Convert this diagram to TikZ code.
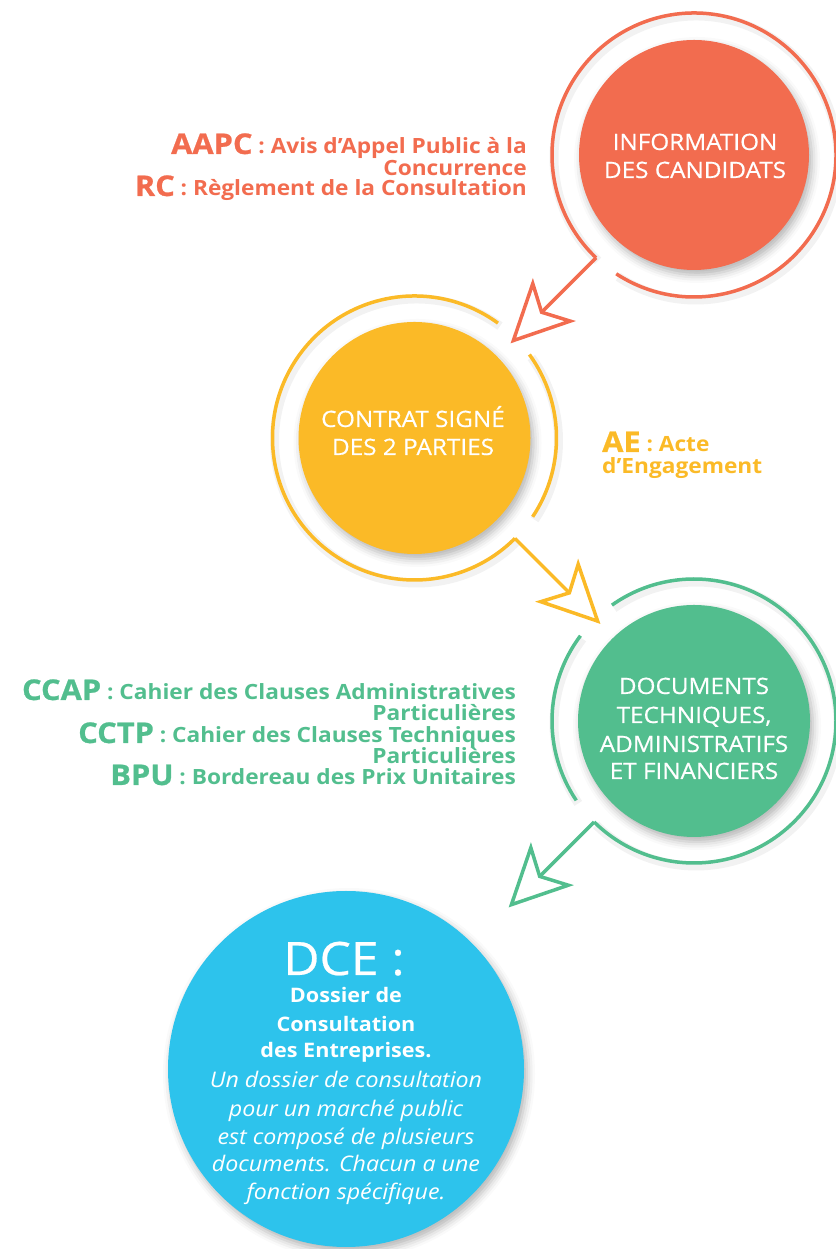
\documentclass[tikz,border=0pt]{standalone}
\usepackage{fontspec}
\setmainfont{Open Sans}[FakeStretch=1.08]
\newfontfamily\acrfont{Open Sans}[FakeStretch=1.08, FakeBold=0.8]
\newfontfamily\medfont{Open Sans}[FakeStretch=1.08, FakeBold=0.5]
\usetikzlibrary{shadows.blur}
\definecolor{cred}{HTML}{F26C4F}
\definecolor{cyel}{HTML}{FBBA27}
\definecolor{cgrn}{HTML}{52BE8E}
\definecolor{cblu}{HTML}{2DC3EC}
\newcommand\acr[1]{{\acrfont\fontsize{28.5}{28.5}\selectfont #1}}
\newcommand\ringarc[4]{%
  \draw[ringshadow] ([xshift=2pt,yshift=-3pt]#2) ++(#3:142) arc[start angle=#3, end angle=#4, radius=142];
  \draw[ring, #1] (#2) ++(#3:142) arc[start angle=#3, end angle=#4, radius=142];}
\tikzset{
  disc/.style={circle, minimum size=#1, inner sep=0pt, draw=none,
    blur shadow={shadow xshift=3pt, shadow yshift=-5pt, shadow blur radius=8pt, shadow opacity=30}},
  ring/.style={line width=3.5pt},
  ringshadow/.style={line width=9pt, black, opacity=0.05},
  shaft/.style={line width=3.5pt, line join=miter},
  openhead/.pic={\draw[line width=3.5pt, line join=miter, pic actions] (0,0) -- (-14,26.5) -- (40,0) -- (-14,-26.5) -- cycle;},
  lbl/.style={text=white, font=\medfont\fontsize{22.5}{22.5}\selectfont, inner sep=0pt, anchor=base},
  desc/.style={font=\bfseries\fontsize{21}{21}\selectfont, inner sep=0pt},
  blubold/.style={text=white, font=\bfseries\fontsize{20}{20}\selectfont, inner sep=0pt, anchor=base},
  bluit/.style={text=white, font=\itshape\fontsize{21.5}{21.5}\selectfont, inner sep=0pt, anchor=base},
}
\begin{document}
\begin{tikzpicture}[x=1pt,y=1pt]
\useasboundingbox (0,0) rectangle (835,1249);

% discs
\node[disc=230, fill=cred] (info) at (694,1094) {};
\node[disc=232, fill=cyel] (contrat) at (414.5,811) {};
\node[disc=232, fill=cgrn] (docs) at (694,528) {};
\node[disc=356, fill=cblu] (dce) at (346,180) {};

% rings
\ringarc{cred}{info.center}{236.8}{586.4}
\ringarc{cyel}{contrat.center}{54}{315}
\ringarc{cyel}{contrat.center}{-33.7}{36}
\ringarc{cgrn}{docs.center}{-134.7}{125.3}
\ringarc{cgrn}{docs.center}{143.1}{214}

% arrow end points
\path (info.center) ++(226.4:142) coordinate (a1s) ++(225:77) coordinate (a1n);
\path (contrat.center) ++(315:142) coordinate (a2s) ++(-45:77) coordinate (a2n);
\path (docs.center) ++(225.3:142) coordinate (a3s) ++(225:77) coordinate (a3n);

\draw[shaft, cred] (a1s) -- (a1n);
\pic[draw=cred, rotate=225] at (a1n) {openhead};
\draw[shaft, cyel] (a2s) -- (a2n);
\pic[draw=cyel, rotate=-45] at (a2n) {openhead};
\draw[shaft, cgrn] (a3s) -- (a3n);
\pic[draw=cgrn, rotate=225] at (a3n) {openhead};

% disc labels
\node[lbl] (info1) at (695,1099) {INFORMATION};
\node[lbl] (info2) at (695,1071) {DES CANDIDATS};
\node[lbl] (con1) at (413,822) {CONTRAT SIGNÉ};
\node[lbl] (con2) at (413,794) {DES 2 PARTIES};
\node[lbl] (doc1) at (694,555) {DOCUMENTS};
\node[lbl] (doc2) at (694,526) {TECHNIQUES,};
\node[lbl] (doc3) at (694,497) {ADMINISTRATIFS};
\node[lbl] (doc4) at (694,470) {ET FINANCIERS};

% red texts
\node[desc, text=cred, anchor=base east] (aapc) at (527,1095) {\acr{AAPC} : Avis d’Appel Public à la};
\node[desc, text=cred, anchor=base east] (aapc2) at (527,1073) {Concurrence};
\node[desc, text=cred, anchor=base east] (rc) at (527,1053) {\acr{RC} : Règlement de la Consultation};

% yellow texts
\node[desc, text=cyel, anchor=base west] (ae) at (602,797) {\acr{AE} : Acte};
\node[desc, text=cyel, anchor=base west] (ae2) at (602,775) {d’Engagement};

% green texts
\node[desc, text=cgrn, anchor=base east] (ccap) at (516,549) {\acr{CCAP} : Cahier des Clauses Administratives};
\node[desc, text=cgrn, anchor=base east] (ccap2) at (516,528) {Particulières};
\node[desc, text=cgrn, anchor=base east] (cctp) at (516,506) {\acr{CCTP} : Cahier des Clauses Techniques};
\node[desc, text=cgrn, anchor=base east] (cctp2) at (516,485) {Particulières};
\node[desc, text=cgrn, anchor=base east] (bpu) at (516,464) {\acr{BPU} : Bordereau des Prix Unitaires};

% blue texts
\node[text=white, font=\medfont\fontsize{46}{46}\selectfont, inner sep=0pt, anchor=base] (dce0) at (344,274) {DCE :};
\node[blubold] (dce1) at (346,246) {Dossier de};
\node[blubold] (dce2) at (346,217) {Consultation};
\node[blubold] (dce3) at (346,191) {des Entreprises.};
\node[bluit] (dce4) at (346,161) {Un dossier de consultation};
\node[bluit] (dce5) at (346,132) {pour un marché public};
\node[bluit] (dce6) at (346,104) {est composé de plusieurs};
\node[bluit] (dce7) at (346,77) {documents. Chacun a une};
\node[bluit] (dce8) at (346,49) {fonction spécifique.};
\end{tikzpicture}
\end{document}
